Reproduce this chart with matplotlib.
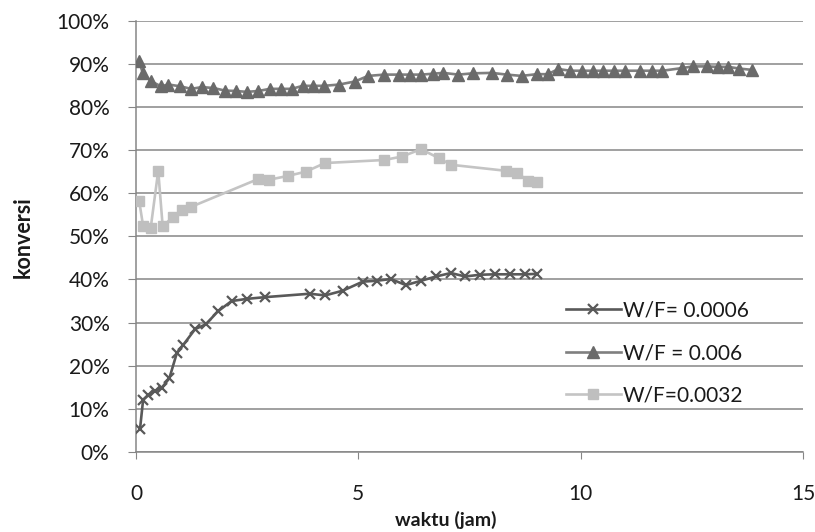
import numpy as np
import matplotlib
matplotlib.use("Agg")
import matplotlib.pyplot as plt
from matplotlib.ticker import PercentFormatter

plt.rcParams['font.family'] = ['Lato', 'DejaVu Sans']

# W/F = 0.0006 (crosses)
t_0006 = [0.09, 0.16, 0.28, 0.43, 0.58, 0.75, 0.92, 1.06, 1.33, 1.57, 1.84, 2.15, 2.49, 2.90,
          3.91, 4.25, 4.65, 5.10, 5.41, 5.73, 6.07, 6.41, 6.75, 7.08, 7.40, 7.74, 8.07, 8.41,
          8.75, 9.01]
k_0006 = [5.3, 12.1, 13.2, 14.2, 14.9, 17.1, 23.0, 24.8, 28.5, 29.6, 32.6, 35.0, 35.5, 35.9,
          36.7, 36.3, 37.4, 39.5, 39.7, 40.1, 38.7, 39.7, 40.7, 41.5, 40.7, 41.1, 41.2, 41.2,
          41.2, 41.3]

# W/F = 0.006 (triangles)
t_006 = [0.07, 0.15, 0.33, 0.56, 0.73, 0.99, 1.24, 1.48, 1.74, 2.00, 2.25, 2.49, 2.75, 3.01,
         3.26, 3.50, 3.75, 3.99, 4.23, 4.57, 4.92, 5.22, 5.58, 5.92, 6.16, 6.42, 6.67, 6.91,
         7.25, 7.58, 8.00, 8.34, 8.67, 9.01, 9.26, 9.50, 9.76, 10.02, 10.27, 10.51, 10.76,
         11.00, 11.33, 11.60, 11.84, 12.27, 12.52, 12.83, 13.08, 13.32, 13.57, 13.85]
k_006 = [90.7, 87.9, 86.0, 84.8, 85.2, 84.8, 84.2, 84.6, 84.4, 83.8, 83.7, 83.5, 83.7, 84.2,
         84.2, 84.2, 84.9, 84.9, 84.9, 85.2, 85.9, 87.2, 87.5, 87.5, 87.5, 87.5, 87.7, 87.9,
         87.5, 87.8, 87.9, 87.5, 87.2, 87.6, 87.6, 88.8, 88.4, 88.4, 88.4, 88.4, 88.4,
         88.4, 88.4, 88.4, 88.4, 89.0, 89.4, 89.4, 89.3, 89.3, 88.9, 88.6]

# W/F = 0.0032 (squares)
t_0032 = [0.07, 0.16, 0.33, 0.50, 0.60, 0.84, 1.03, 1.23, 2.75, 2.98, 3.41, 3.82, 4.25,
          5.58, 5.98, 6.41, 6.82, 7.08, 8.32, 8.57, 8.82, 9.01]
k_0032 = [58.3, 52.4, 51.9, 65.2, 52.3, 54.6, 56.1, 56.8, 63.3, 63.1, 64.0, 65.0, 67.0,
          67.7, 68.5, 70.2, 68.1, 66.6, 65.2, 64.7, 62.9, 62.5]

fig = plt.figure(figsize=(8.15, 5.32), dpi=100)
ax = fig.add_axes([136/815, 1-452/532, (803-136)/815, (452-20.7)/532])

ax.plot(t_0006, k_0006, color='#595959', lw=1.9, marker='x', ms=7, mew=1.6,
        label='W/F= 0.0006', zorder=5)
ax.plot(t_006, k_006, color='#7f7f7f', lw=1.9, marker='^', ms=8, mfc='#6a6a6a',
        mec='#6a6a6a', label='W/F = 0.006', zorder=4)
ax.plot(t_0032, k_0032, color='#c4c4c4', lw=1.9, marker='s', ms=7.5, mfc='#bfbfbf',
        mec='#bfbfbf', label='W/F=0.0032', zorder=3)

ax.set_xlim(0, 15)
ax.set_ylim(0, 100)
ax.set_xticks([0, 5, 10, 15])
ax.set_yticks(np.arange(0, 101, 10))
ax.yaxis.set_major_formatter(PercentFormatter(decimals=0))
ax.grid(axis='y', color='#868686', lw=1.1)
ax.set_axisbelow(True)
for s in ['top', 'right']:
    ax.spines[s].set_visible(False)
for s in ['left', 'bottom']:
    ax.spines[s].set_color('#868686')
    ax.spines[s].set_linewidth(1.1)
ax.tick_params(axis='y', length=6, color='#868686', pad=13, labelsize=15, labelcolor='#1a1a1a')
ax.tick_params(axis='x', length=5, color='#868686', pad=18, labelsize=15, labelcolor='#1a1a1a')

fig.text(446/815, 1-520/532, 'waktu (jam)', ha='center', va='center', fontsize=14,
         fontweight='bold', color='#1a1a1a')
fig.text(23.5/815, 1-237/532, 'konversi', ha='center', va='center', rotation=90,
         fontsize=15.5, fontweight='bold', color='#1a1a1a')

ax.legend(loc='center left', bbox_to_anchor=(558/815, 1-353/532), bbox_transform=fig.transFigure,
          frameon=False, fontsize=15, handlelength=2.6, handletextpad=0.1,
          labelspacing=1.08, borderaxespad=0, labelcolor='#1a1a1a')

fig.savefig('out.png', dpi=100)
